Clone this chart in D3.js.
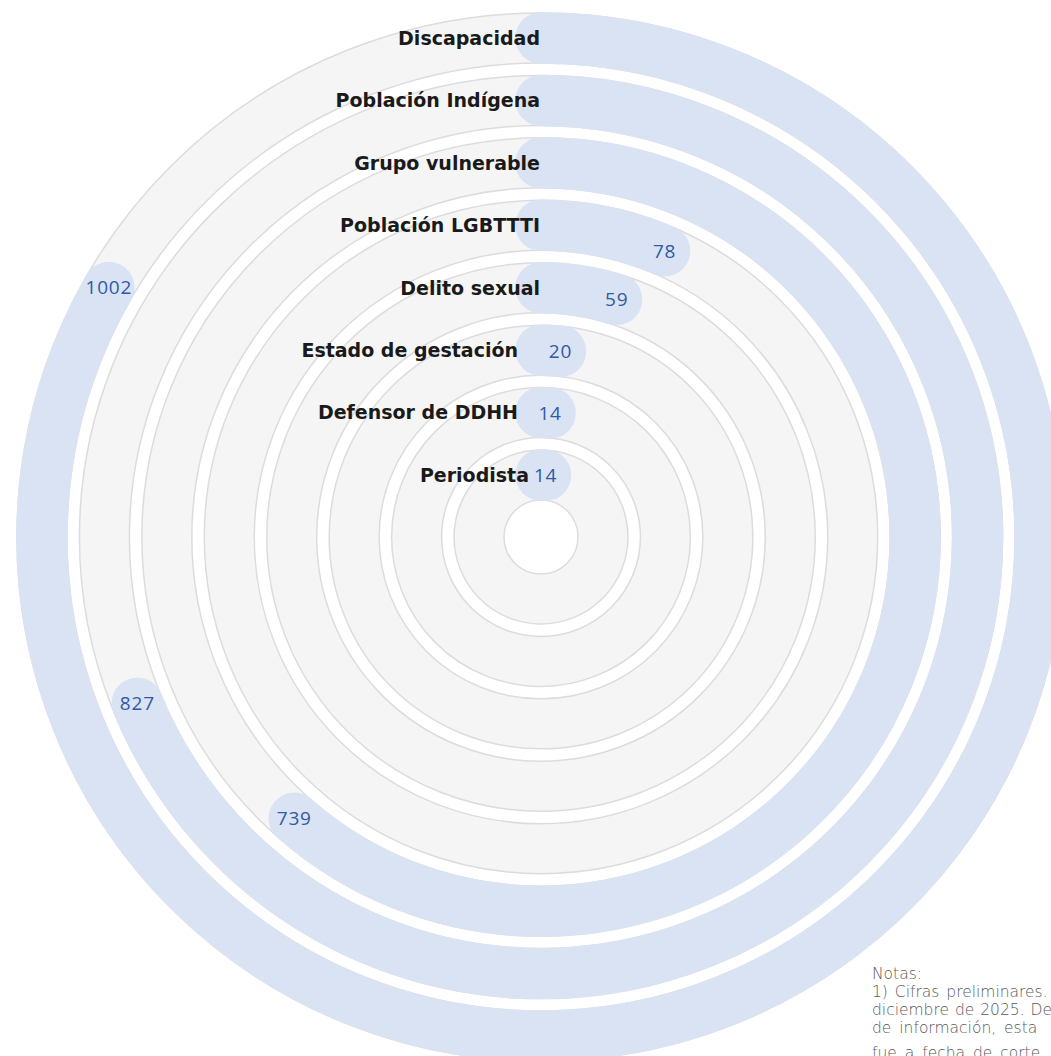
<!DOCTYPE html>
<html>
<head>
<meta charset="utf-8">
<script src="https://cdn.jsdelivr.net/npm/d3@7"></script>
<style>
  body { margin: 0; background: #fff; }
  svg { display: block; }
</style>
</head>
<body>
<div id="chart"></div>
<script>
// categorías de afuera hacia adentro
const categorias = ["Discapacidad", "Población Indígena", "Grupo vulnerable", "Población LGBTTTI",
  "Delito sexual", "Estado de gestación", "Defensor de DDHH", "Periodista"];
const valores = [1002, 827, 739, 78, 59, 20, 14, 14];
const notas = [
  "Notas:",
  "1) Cifras preliminares.",
  "diciembre de 2025. De",
  "de información, esta",
  "fue a fecha de corte"
];

const datos = categorias.map((c, i) => ({ name: c, value: valores[i] }));

const width = 1051;
const height = 1056;
const cx = 541, cy = 537;
const innerR = 37, outerR = 524;

const svg = d3.select("#chart").append("svg")
  .attr("width", width)
  .attr("height", height);

const g = svg.append("g").attr("transform", `translate(${cx},${cy})`);

const r = d3.scaleBand()
  .domain(categorias.slice().reverse())
  .range([innerR, outerR])
  .paddingInner(0.2)
  .paddingOuter(0);

const ang = d3.scaleLinear()
  .domain([0, d3.max(valores) * 1.2])
  .range([0, 2 * Math.PI]);

const bw = r.bandwidth();

// pistas grises
g.selectAll("path.track").data(datos).enter().append("path")
  .attr("class", "track")
  .attr("d", d => d3.arc()
    .innerRadius(r(d.name))
    .outerRadius(r(d.name) + bw)
    .startAngle(0)
    .endAngle(2 * Math.PI)())
  .style("fill", "#f5f5f5")
  .style("stroke", "#dcdcdc")
  .style("stroke-width", 1.5);

// barras con extremos redondeados
g.selectAll("path.bar").data(datos).enter().append("path")
  .attr("class", "bar")
  .attr("d", d => {
    const p = d3.path();
    const rad = r(d.name) + bw / 2;
    p.arc(0, 0, rad, -Math.PI / 2, ang(d.value) - Math.PI / 2);
    return p.toString();
  })
  .style("fill", "none")
  .style("stroke", "#dae3f3")
  .style("stroke-width", bw + 1.5)
  .style("stroke-linecap", "round");

// etiquetas de categoría (se corren a la izquierda si el valor queda cerca del inicio)
g.selectAll("text.cat").data(datos).enter().append("text")
  .attr("class", "cat")
  .attr("x", d => {
    const rad = r(d.name) + bw / 2;
    const a = ang(d.value);
    if (a < Math.PI / 2 && rad * Math.sin(a) < 40) return rad < 80 ? -12 : -bw / 2 + 2;
    return -1;
  })
  .attr("y", d => -(r(d.name) + bw / 2))
  .attr("dy", "0.36em")
  .attr("text-anchor", "end")
  .style("font-family", "'DejaVu Sans', sans-serif")
  .style("font-weight", 700)
  .style("font-size", "19px")
  .style("fill", "#1a1a1a")
  .text(d => d.name);

// valores
g.selectAll("text.val").data(datos).enter().append("text")
  .attr("class", "val")
  .attr("x", d => (r(d.name) + bw / 2) * Math.sin(ang(d.value)))
  .attr("y", d => -(r(d.name) + bw / 2) * Math.cos(ang(d.value)))
  .attr("dy", "0.36em")
  .attr("text-anchor", "middle")
  .style("font-family", "'Open Sans', sans-serif")
  .style("font-weight", 400)
  .style("font-size", "19px")
  .style("letter-spacing", "0.8px")
  .style("fill", "#2f5aa6")
  .text(d => d.value);

// notas
const lineaY = [979, 997, 1015, 1033, 1058];
const espacio = ["0px", "2px", "1px", "3px", "3px"];
svg.append("g").selectAll("text").data(notas).enter().append("text")
  .attr("x", 872)
  .attr("y", (d, i) => lineaY[i])
  .style("font-family", "'DejaVu Sans', sans-serif")
  .style("font-weight", 200)
  .style("font-size", "15.5px")
  .style("word-spacing", (d, i) => espacio[i])
  .style("fill", "#5a5a5a")
  .text(d => d);
</script>
</body>
</html>
